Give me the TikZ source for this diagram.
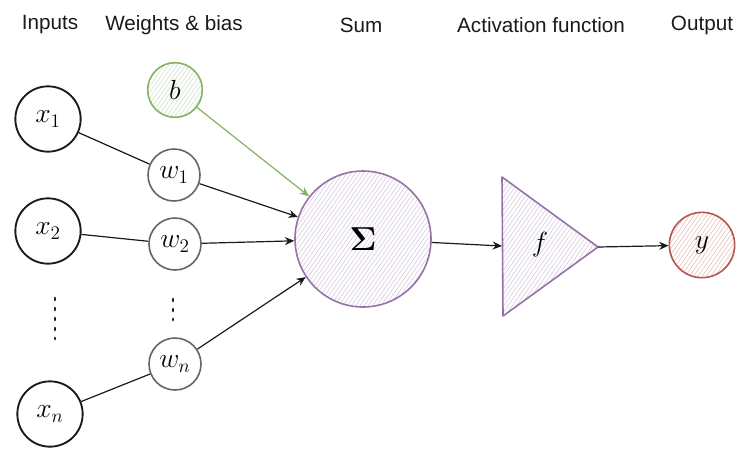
\documentclass[tikz,border=0pt]{standalone}
\usepackage{amsmath, amssymb}
\usepackage[no-math]{fontspec}
\setsansfont{Liberation Sans}
\usepackage{tikz}
\usepackage{xcolor}
\usetikzlibrary{arrows.meta, positioning, patterns.meta}
\definecolor{darktext}{HTML}{1A1A1A}
\definecolor{sumline}{HTML}{9673A6}
\definecolor{biasline}{HTML}{82B366}
\definecolor{outline}{HTML}{B85450}
\definecolor{wgtline}{HTML}{666666}

\begin{document}
\begin{tikzpicture}[x=0.75pt, y=-0.75pt,
            head/.style={font=\sffamily\fontsize{15.5}{18}\selectfont, text=darktext},
            nX/.style={circle, draw=darktext, line width=1.4pt, minimum size=49pt, inner sep=0pt, font=\fontsize{21}{23}\selectfont},
            nW/.style={circle, draw=wgtline, line width=1.2pt, fill=white, minimum size=39pt, inner sep=0pt, font=\fontsize{20}{22}\selectfont},
            hatch/.style={pattern={Lines[angle=55, distance=2.6pt, line width=0.5pt]}, pattern color=#1},
            nB/.style={circle, draw=biasline, line width=1.2pt, minimum size=41pt, inner sep=0pt, hatch=biasline!35, font=\fontsize{21}{23}\selectfont},
            nS/.style={circle, draw=sumline, line width=1.2pt, minimum size=102pt, inner sep=0pt, hatch=sumline!35, font=\fontsize{30}{32}\selectfont},
            nY/.style={circle, draw=outline, line width=1.2pt, minimum size=49pt, inner sep=0pt, hatch=outline!35, font=\fontsize{21}{23}\selectfont},
            link/.style={draw=darktext, line width=0.9pt},
            feed/.style={link, -{Stealth[length=7pt, width=6pt]}},
            dotcol/.style={draw=darktext, line width=2.2pt, line cap=round, dash pattern=on 1.5pt off 6pt}]
            \useasboundingbox (0,0) rectangle (737,451);
            % column titles
            \node[head] (tIn) at (50,25) {Inputs};
            \node[head] (tW) at (174,25) {Weights \& bias};
            \node[head] (tSum) at (361,25) {Sum};
            \node[head] (tAct) at (541,25) {Activation function};
            \node[head] (tOut) at (702,25) {Output};
            % inputs and weights
            \node[nX] (x1) at (48,119) {$x_1$};
            \node[nX] (x2) at (48,231) {$x_2$};
            \node[nX] (xn) at (50,414) {$x_n$};
            \node[nB] (b) at (175,90) {$b$};
            \node[nW] (w1) at (174,175) {$w_1$};
            \node[nW] (w2) at (175,244) {$w_2$};
            \node[nW] (wn) at (175,364) {$w_n$};
            \draw[dotcol] (55,298) -- (55,339);
            \draw[dotcol] (173,299) -- (173,320);
            % sum, activation, output
            \node[nS] (sum) at (363,239) {$\mathbf{\Sigma}$};
            \draw[sumline, line width=1.2pt, line join=round, hatch=sumline!35] (502,177) -- (598,247) -- (503,316) -- cycle;
            \coordinate (fin) at (502,246);
            \coordinate (fout) at (598,247);
            \node[font=\fontsize{22}{24}\selectfont] (f) at (540,245) {$f$};
            \node[nY] (y) at (702,245) {$y$};
            % connectors
            \foreach \i/\j in {x1/w1, x2/w2, xn/wn} {
                \draw[link] (\i)--(\j);
            }
            \foreach \i in {w1, w2, wn} {
                \draw[feed] (\i)--(sum);
            }
            \draw[feed, draw=biasline] (b)--(sum);
            \draw[feed] (sum)--(fin);
            \draw[feed] (fout)--(y);
        \end{tikzpicture}
\end{document}
